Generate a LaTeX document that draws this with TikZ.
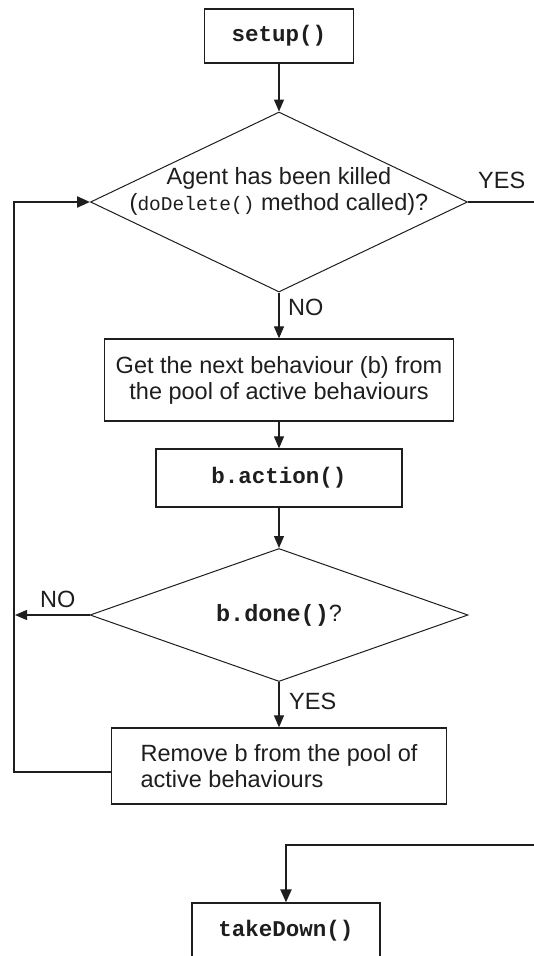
\documentclass[tikz,border=0pt]{standalone}
\usepackage{fontspec}
\setmainfont{Liberation Sans}
\setmonofont{Liberation Mono}
\usetikzlibrary{shapes.geometric,arrows.meta,calc}
\definecolor{ink}{HTML}{1E1E1E}
\begin{document}
\begin{tikzpicture}[x=1pt,y=-1pt,
  every node/.style={font=\fontsize{23.5}{26}\selectfont, text=ink},
  box/.style={draw=ink, line width=1.3pt, rectangle, inner sep=0pt},
  dia/.style={draw=ink, line width=1pt, diamond, inner sep=0pt, aspect=2},
  flow/.style={draw=ink, line width=1.2pt, -{Triangle[length=12pt,width=10pt]}},
  loopline/.style={draw=ink, line width=2.2pt},
  loopflow/.style={loopline, -{Triangle[length=13pt,width=11pt]}},
  lbl/.style={anchor=west, inner sep=0pt},
  code/.style={font=\fontsize{22.5}{26}\selectfont\ttfamily\bfseries}
]
\useasboundingbox (0,0) rectangle (533,956);
\fill[white] (0,0) rectangle (533,956);

% nodes
\node[box, code, minimum width=149pt, minimum height=54pt] (setup) at (279,36) {setup()};
\node[dia, minimum width=377pt, minimum height=180pt] (d1) at (279,202) {};
\node[align=center, inner sep=0pt] (d1t) at (279,191)
  {Agent has been killed\\({\fontsize{19.5}{26}\selectfont\ttfamily doDelete()} method called)?};
\node[box, align=center, minimum width=349pt, minimum height=82pt] (get) at (279,380)
  {Get the next behaviour (b) from\\the pool of active behaviours};
\node[box, code, minimum width=246pt, minimum height=58pt] (act) at (279,478) {b.action()};
\node[dia, minimum width=378pt, minimum height=133pt] (d2) at (279,615)
  {{\fontsize{23.5}{26}\selectfont\ttfamily\bfseries b.done()}?};
\node[box, align=left, minimum width=335pt, minimum height=76pt] (rem) at (279,766)
  {Remove b from the pool of\\active behaviours};
\node[box, code, minimum width=188pt, minimum height=56pt] (td) at (286,931) {takeDown()};

% helper coordinates
\coordinate (lt) at (14,0);
\coordinate (rt) at (545,0);
\coordinate (bot) at (0,845);

% connectors
\draw[flow] (setup.south) -- (d1.north);
\draw[flow] (d1.south) -- (get.north);
\draw[flow] (get.south) -- (act.north);
\draw[flow] (act.south) -- (d2.north);
\draw[flow] (d2.south) -- (rem.north);
\draw[flow] (d2.west) -- ([xshift=1pt]d2.west -| lt);
\draw[loopflow] ([yshift=-6pt]rem.west) -| (d1.west -| lt) -- (d1.west);
\draw[loopflow] (d1.east) -- (d1.east -| rt) -- (rt |- bot) -| (td.north);

% labels
\node[lbl] (no1) at ([xshift=9pt,yshift=-15pt]d1.south) {NO};
\node[lbl] (yes1) at ([xshift=10pt,yshift=22pt]d1.east) {YES};
\node[lbl] (no2) at (40,599) {NO};
\node[lbl] (yes2) at ([xshift=10pt,yshift=-19pt]d2.south) {YES};
\end{tikzpicture}
\end{document}
